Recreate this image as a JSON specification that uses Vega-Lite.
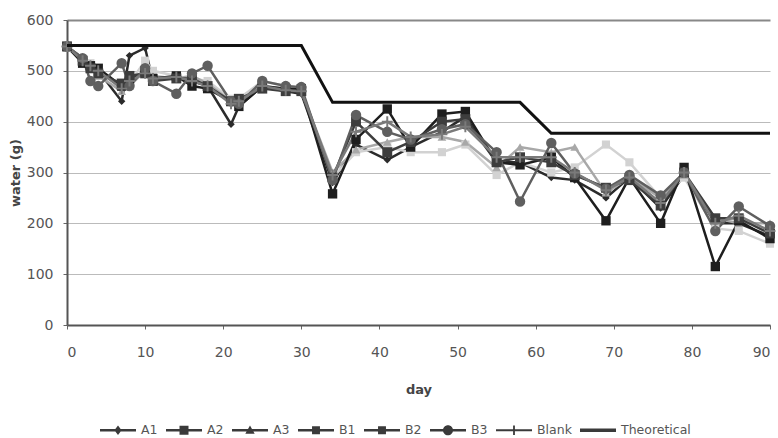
{
  "$schema": "https://vega.github.io/schema/vega-lite/v6.json",
  "width": 703,
  "height": 305,
  "autosize": {"type": "none"},
  "padding": {"left": 67, "top": 20, "right": 8, "bottom": 113},
  "background": "white",
  "config": {"view": {"stroke": null}, "font": "DejaVu Sans", "legend": {"symbolBaseFillColor": "#3a3a3a"}},
  "data": {"values": [
    {"d":0,"s":"A1","w":548},{"d":2,"s":"A1","w":525},{"d":3,"s":"A1","w":505},{"d":4,"s":"A1","w":500},{"d":7,"s":"A1","w":440},{"d":8,"s":"A1","w":530},{"d":10,"s":"A1","w":545},{"d":11,"s":"A1","w":480},{"d":14,"s":"A1","w":490},{"d":16,"s":"A1","w":480},{"d":18,"s":"A1","w":470},{"d":21,"s":"A1","w":395},{"d":22,"s":"A1","w":430},{"d":25,"s":"A1","w":470},{"d":28,"s":"A1","w":460},{"d":30,"s":"A1","w":455},{"d":34,"s":"A1","w":280},{"d":37,"s":"A1","w":355},{"d":41,"s":"A1","w":325},{"d":44,"s":"A1","w":350},{"d":48,"s":"A1","w":380},{"d":51,"s":"A1","w":410},{"d":55,"s":"A1","w":320},{"d":58,"s":"A1","w":320},{"d":62,"s":"A1","w":290},{"d":65,"s":"A1","w":285},{"d":69,"s":"A1","w":250},{"d":72,"s":"A1","w":290},{"d":76,"s":"A1","w":230},{"d":79,"s":"A1","w":295},{"d":83,"s":"A1","w":200},{"d":86,"s":"A1","w":200},{"d":90,"s":"A1","w":175},
    {"d":0,"s":"A2","w":545},{"d":2,"s":"A2","w":520},{"d":3,"s":"A2","w":515},{"d":4,"s":"A2","w":495},{"d":7,"s":"A2","w":470},{"d":8,"s":"A2","w":475},{"d":10,"s":"A2","w":520},{"d":11,"s":"A2","w":500},{"d":14,"s":"A2","w":490},{"d":16,"s":"A2","w":485},{"d":18,"s":"A2","w":480},{"d":21,"s":"A2","w":445},{"d":22,"s":"A2","w":445},{"d":25,"s":"A2","w":480},{"d":28,"s":"A2","w":470},{"d":30,"s":"A2","w":460},{"d":34,"s":"A2","w":290},{"d":37,"s":"A2","w":340},{"d":41,"s":"A2","w":350},{"d":44,"s":"A2","w":340},{"d":48,"s":"A2","w":340},{"d":51,"s":"A2","w":355},{"d":55,"s":"A2","w":295},{"d":58,"s":"A2","w":320},{"d":62,"s":"A2","w":300},{"d":65,"s":"A2","w":310},{"d":69,"s":"A2","w":355},{"d":72,"s":"A2","w":320},{"d":76,"s":"A2","w":250},{"d":79,"s":"A2","w":290},{"d":83,"s":"A2","w":190},{"d":86,"s":"A2","w":185},{"d":90,"s":"A2","w":160},
    {"d":0,"s":"A3","w":548},{"d":2,"s":"A3","w":525},{"d":3,"s":"A3","w":510},{"d":4,"s":"A3","w":490},{"d":7,"s":"A3","w":460},{"d":8,"s":"A3","w":470},{"d":10,"s":"A3","w":500},{"d":11,"s":"A3","w":490},{"d":14,"s":"A3","w":485},{"d":16,"s":"A3","w":490},{"d":18,"s":"A3","w":475},{"d":21,"s":"A3","w":440},{"d":22,"s":"A3","w":440},{"d":25,"s":"A3","w":470},{"d":28,"s":"A3","w":465},{"d":30,"s":"A3","w":460},{"d":34,"s":"A3","w":300},{"d":37,"s":"A3","w":345},{"d":41,"s":"A3","w":360},{"d":44,"s":"A3","w":370},{"d":48,"s":"A3","w":370},{"d":51,"s":"A3","w":360},{"d":55,"s":"A3","w":310},{"d":58,"s":"A3","w":350},{"d":62,"s":"A3","w":340},{"d":65,"s":"A3","w":350},{"d":69,"s":"A3","w":260},{"d":72,"s":"A3","w":290},{"d":76,"s":"A3","w":250},{"d":79,"s":"A3","w":295},{"d":83,"s":"A3","w":210},{"d":86,"s":"A3","w":200},{"d":90,"s":"A3","w":200},
    {"d":0,"s":"B1","w":548},{"d":2,"s":"B1","w":515},{"d":3,"s":"B1","w":510},{"d":4,"s":"B1","w":505},{"d":7,"s":"B1","w":470},{"d":8,"s":"B1","w":480},{"d":10,"s":"B1","w":500},{"d":11,"s":"B1","w":485},{"d":14,"s":"B1","w":490},{"d":16,"s":"B1","w":470},{"d":18,"s":"B1","w":465},{"d":21,"s":"B1","w":440},{"d":22,"s":"B1","w":430},{"d":25,"s":"B1","w":470},{"d":28,"s":"B1","w":465},{"d":30,"s":"B1","w":465},{"d":34,"s":"B1","w":258},{"d":37,"s":"B1","w":365},{"d":41,"s":"B1","w":425},{"d":44,"s":"B1","w":350},{"d":48,"s":"B1","w":415},{"d":51,"s":"B1","w":420},{"d":55,"s":"B1","w":320},{"d":58,"s":"B1","w":315},{"d":62,"s":"B1","w":330},{"d":65,"s":"B1","w":290},{"d":69,"s":"B1","w":205},{"d":72,"s":"B1","w":290},{"d":76,"s":"B1","w":200},{"d":79,"s":"B1","w":310},{"d":83,"s":"B1","w":115},{"d":86,"s":"B1","w":205},{"d":90,"s":"B1","w":170},
    {"d":0,"s":"B2","w":548},{"d":2,"s":"B2","w":520},{"d":3,"s":"B2","w":505},{"d":4,"s":"B2","w":495},{"d":7,"s":"B2","w":475},{"d":8,"s":"B2","w":490},{"d":10,"s":"B2","w":495},{"d":11,"s":"B2","w":480},{"d":14,"s":"B2","w":485},{"d":16,"s":"B2","w":485},{"d":18,"s":"B2","w":470},{"d":21,"s":"B2","w":440},{"d":22,"s":"B2","w":445},{"d":25,"s":"B2","w":465},{"d":28,"s":"B2","w":460},{"d":30,"s":"B2","w":460},{"d":34,"s":"B2","w":290},{"d":37,"s":"B2","w":400},{"d":41,"s":"B2","w":340},{"d":44,"s":"B2","w":360},{"d":48,"s":"B2","w":400},{"d":51,"s":"B2","w":405},{"d":55,"s":"B2","w":320},{"d":58,"s":"B2","w":330},{"d":62,"s":"B2","w":320},{"d":65,"s":"B2","w":295},{"d":69,"s":"B2","w":270},{"d":72,"s":"B2","w":285},{"d":76,"s":"B2","w":235},{"d":79,"s":"B2","w":300},{"d":83,"s":"B2","w":210},{"d":86,"s":"B2","w":210},{"d":90,"s":"B2","w":180},
    {"d":0,"s":"B3","w":548},{"d":2,"s":"B3","w":525},{"d":3,"s":"B3","w":480},{"d":4,"s":"B3","w":470},{"d":7,"s":"B3","w":515},{"d":8,"s":"B3","w":470},{"d":10,"s":"B3","w":505},{"d":11,"s":"B3","w":480},{"d":14,"s":"B3","w":455},{"d":16,"s":"B3","w":495},{"d":18,"s":"B3","w":510},{"d":21,"s":"B3","w":440},{"d":22,"s":"B3","w":435},{"d":25,"s":"B3","w":480},{"d":28,"s":"B3","w":470},{"d":30,"s":"B3","w":468},{"d":34,"s":"B3","w":285},{"d":37,"s":"B3","w":413},{"d":41,"s":"B3","w":380},{"d":44,"s":"B3","w":365},{"d":48,"s":"B3","w":385},{"d":51,"s":"B3","w":395},{"d":55,"s":"B3","w":340},{"d":58,"s":"B3","w":243},{"d":62,"s":"B3","w":358},{"d":65,"s":"B3","w":298},{"d":69,"s":"B3","w":268},{"d":72,"s":"B3","w":295},{"d":76,"s":"B3","w":255},{"d":79,"s":"B3","w":300},{"d":83,"s":"B3","w":185},{"d":86,"s":"B3","w":233},{"d":90,"s":"B3","w":195},
    {"d":0,"s":"Blank","w":548},{"d":2,"s":"Blank","w":520},{"d":3,"s":"Blank","w":510},{"d":4,"s":"Blank","w":500},{"d":7,"s":"Blank","w":465},{"d":8,"s":"Blank","w":480},{"d":10,"s":"Blank","w":495},{"d":11,"s":"Blank","w":485},{"d":14,"s":"Blank","w":488},{"d":16,"s":"Blank","w":480},{"d":18,"s":"Blank","w":470},{"d":21,"s":"Blank","w":435},{"d":22,"s":"Blank","w":440},{"d":25,"s":"Blank","w":470},{"d":28,"s":"Blank","w":462},{"d":30,"s":"Blank","w":460},{"d":34,"s":"Blank","w":295},{"d":37,"s":"Blank","w":380},{"d":41,"s":"Blank","w":400},{"d":44,"s":"Blank","w":370},{"d":48,"s":"Blank","w":375},{"d":51,"s":"Blank","w":390},{"d":55,"s":"Blank","w":330},{"d":58,"s":"Blank","w":330},{"d":62,"s":"Blank","w":330},{"d":65,"s":"Blank","w":300},{"d":69,"s":"Blank","w":265},{"d":72,"s":"Blank","w":290},{"d":76,"s":"Blank","w":240},{"d":79,"s":"Blank","w":300},{"d":83,"s":"Blank","w":200},{"d":86,"s":"Blank","w":215},{"d":90,"s":"Blank","w":185},
    {"d":0,"s":"Theoretical","w":550},{"d":30,"s":"Theoretical","w":550},{"d":34,"s":"Theoretical","w":438},{"d":58,"s":"Theoretical","w":438},{"d":62,"s":"Theoretical","w":377},{"d":90,"s":"Theoretical","w":377}
  ]},
  "encoding": {
    "x": {"field": "d", "type": "quantitative", "title": "day",
      "scale": {"domain": [0, 90], "nice": false, "zero": false},
      "axis": {"values": [0,10,20,30,40,50,60,70,80,90], "grid": false, "domainColor": "#555", "domainWidth": 2, "tickColor": "#666", "tickSize": 4,
        "labelFont": "DejaVu Sans", "labelFontSize": 14, "labelColor": "#555", "labelPadding": 16,
        "titleFont": "DejaVu Sans", "titleFontSize": 13, "titleFontWeight": "bold", "titleColor": "#444", "titlePadding": 24}},
    "y": {"field": "w", "type": "quantitative", "title": "water (g)",
      "scale": {"domain": [0, 600], "nice": false},
      "axis": {"values": [0,100,200,300,400,500,600], "grid": true,
        "gridColor": {"condition": {"test": "datum.value === 600", "value": "#888"}, "value": "#bbb"},
        "gridWidth": {"condition": {"test": "datum.value === 600", "value": 2}, "value": 1},
        "domainColor": "#555", "domainWidth": 2, "tickColor": "#666", "tickSize": 4,
        "labelFont": "DejaVu Sans", "labelFontSize": 14, "labelColor": "#555", "labelPadding": 10,
        "titleFont": "DejaVu Sans", "titleFontSize": 13, "titleFontWeight": "bold", "titleColor": "#444", "titlePadding": 4}}
  },
  "layer": [
    {
      "transform": [{"filter": "datum.s !== 'Theoretical'"}],
      "mark": {"type": "line", "strokeWidth": 2.5},
      "encoding": {
        "color": {"field": "s", "type": "nominal", "legend": null,
          "scale": {"domain": ["A1","A2","A3","B1","B2","B3","Blank","Theoretical"],
                    "range": ["#2b2b2b","#d2d2d2","#a8a8a8","#1e1e1e","#3d3d3d","#5f5f5f","#7a7a7a","#111111"]}}
      }
    },
    {
      "transform": [{"filter": "datum.s !== 'Theoretical'"}],
      "mark": {"type": "point", "filled": true, "opacity": 1},
      "encoding": {
        "color": {"field": "s", "type": "nominal", "legend": null},
        "shape": {"field": "s", "type": "nominal", "legend": null,
          "scale": {"domain": ["A1","A2","A3","B1","B2","B3","Blank"],
                    "range": ["diamond","square","triangle-up","square","square","circle","M-1,-0.18H1V0.18H-1Z M-0.18,-1H0.18V1H-0.18Z"]}},
        "size": {"field": "s", "type": "nominal", "legend": null,
          "scale": {"domain": ["A1","A2","A3","B1","B2","B3","Blank"],
                    "range": [55, 120, 75, 75, 75, 160, 70]}}
      }
    },
    {
      "transform": [{"filter": "datum.s === 'Theoretical'"}],
      "mark": {"type": "line", "strokeWidth": 3, "color": "#111111"},
      "encoding": {}
    },
    {
      "mark": {"type": "point", "filled": true, "opacity": 0},
      "encoding": {
        "fill": {"field": "s", "type": "nominal",
          "scale": {"domain": ["A1","A2","A3","B1","B2","B3","Blank","Theoretical"],
                    "range": ["#2b2b2b","#d2d2d2","#a8a8a8","#1e1e1e","#3d3d3d","#5f5f5f","#7a7a7a","#111111"]},
          "legend": {"title": null, "orient": "none", "legendX": 33, "legendY": 392, "direction": "horizontal", "columns": 8,
            "padding": 0, "symbolSize": 1296, "symbolStrokeWidth": 0, "symbolOpacity": 1, "labelOffset": 5, "columnPadding": 8,
            "labelFont": "DejaVu Sans", "labelFontSize": 12.5, "labelColor": "#555"}},
        "shape": {"field": "s", "type": "nominal",
          "scale": {"domain": ["A1","A2","A3","B1","B2","B3","Blank","Theoretical"],
                    "range": [
                      "M-1,-0.07H1V0.07H-1Z M0,-0.26L0.2,0L0,0.26L-0.2,0Z",
                      "M-1,-0.07H1V0.07H-1Z M-0.25,-0.25H0.25V0.25H-0.25Z",
                      "M-1,-0.07H1V0.07H-1Z M0,-0.26L0.26,0.2H-0.26Z",
                      "M-1,-0.07H1V0.07H-1Z M-0.22,-0.22H0.22V0.22H-0.22Z",
                      "M-1,-0.07H1V0.07H-1Z M-0.22,-0.22H0.22V0.22H-0.22Z",
                      "M-1,-0.07H1V0.07H-1Z M-0.28,0A0.28,0.28,0,1,1,0.28,0A0.28,0.28,0,1,1,-0.28,0Z",
                      "M-1,-0.05H1V0.05H-1Z M-0.05,-0.26H0.05V0.26H-0.05Z",
                      "M-1,-0.1H1V0.1H-1Z"]},
          "legend": {"title": null, "orient": "none", "legendX": 33, "legendY": 392, "direction": "horizontal", "columns": 8,
            "padding": 0, "symbolSize": 1296, "symbolStrokeWidth": 0, "symbolOpacity": 1, "labelOffset": 5, "columnPadding": 8,
            "labelFont": "DejaVu Sans", "labelFontSize": 12.5, "labelColor": "#555"}}
      }
    }
  ],
  "resolve": {"scale": {"shape": "independent", "size": "independent"}}
}
